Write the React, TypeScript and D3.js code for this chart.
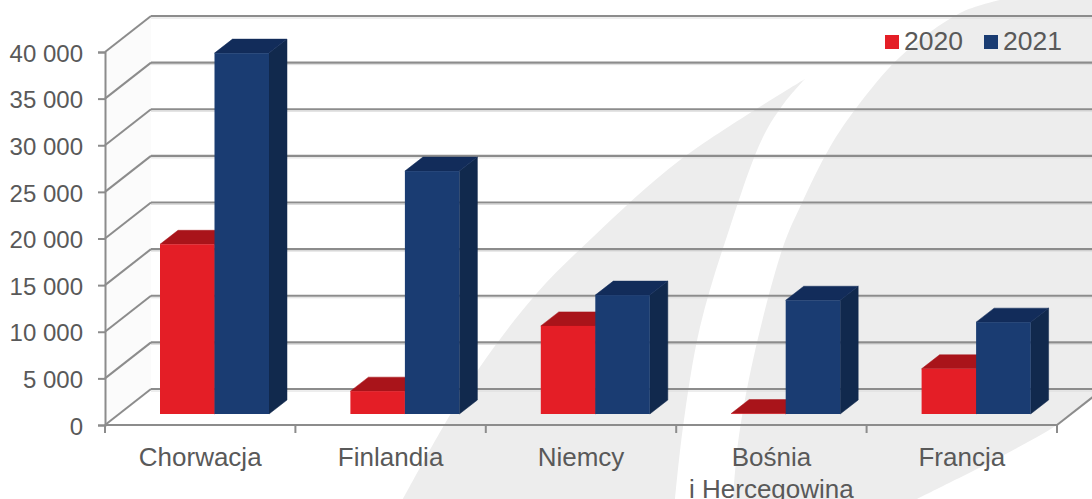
import * as d3 from "d3";
import { useEffect, useRef } from "react";

const categories = ["Chorwacja", "Finlandia", "Niemcy", "Bośnia|i Hercegowina", "Francja"];
const seriesNames = ["2020", "2021"];
const values2020 = [18200, 2450, 9450, 50, 4850];
const values2021 = [38700, 26050, 12750, 12200, 9850];
const yTicks = [0, 5000, 10000, 15000, 20000, 25000, 30000, 35000, 40000];

// background swooshes
const bladeLeftEdge: [number, number][] = [[805, 79], [680, 160], [593, 237], [537, 293], [480, 367], [443, 427], [403, 499]];
const bladeRightEdge: [number, number][] = [[675, 499], [683, 427], [700, 327], [730, 227], [763, 137], [785, 102], [805, 79]];
const sailLeftEdge: [number, number][] = [[1000, 0], [960, 13], [900, 57], [857, 107], [830, 147], [800, 207], [783, 247], [753, 360], [738, 443], [733, 499]];
const sailBottomEdge: [number, number][] = [[917, 499], [1000, 457], [1057, 425], [1092, 398]];

const width = 1092;
const height = 499;
const depthX = 46;
const depthY = 36;
const barDepthX = 18;
const barDepthY = 14;
const floorGap = 11;

const colors = {
    red: "#e41e26",
    redTop: "#a9141a",
    blue: "#1a3c72",
    blueTop: "#122c5a",
    blueSide: "#11294d",
    grid: "#8c8c8c",
    text: "#595959",
    swoosh: "#ededed",
    wall: "#fbfbfb",
};

const seriesColors = [
    { front: colors.red, top: colors.redTop, side: colors.redTop },
    { front: colors.blue, top: colors.blueTop, side: colors.blueSide },
];

export default function App() {
    const svgRef = useRef<SVGSVGElement>(null);

    useEffect(() => {
        if (svgRef.current) {
            drawChart();
        }
    }, [svgRef]);

    const drawChart = () => {
        const svg = d3.select(svgRef.current);
        svg.selectAll("*").remove();

        const scaleX = d3.scaleBand().domain(categories).range([105, 1057]);
        const scaleInner = d3.scaleBand().domain(seriesNames).range([0, 109]);
        const scaleY = d3.scaleLinear().domain([0, 40000]).range([425, 52]);

        drawBackground(svg);
        drawGrid(svg, scaleX, scaleY);
        drawAxis(svg, scaleX, scaleY);
        drawBars(svg, scaleX, scaleInner, scaleY);
        drawLegend(svg);
    };

    const drawBackground = (svg: any) => {
        const curve = d3.line().curve(d3.curveCatmullRom.alpha(0.5));
        svg.append("path")
            .attr("d", curve(bladeLeftEdge) + "L" + curve(bladeRightEdge)!.slice(1) + "Z")
            .attr("fill", colors.swoosh);
        svg.append("path")
            .attr("d", curve(sailLeftEdge) + "L" + curve(sailBottomEdge)!.slice(1) + "L1092,0Z")
            .attr("fill", colors.swoosh);
    };

    const drawGrid = (svg: any, scaleX: any, scaleY: any) => {
        const [x0, x1] = scaleX.range();
        const base = scaleY(0);
        const top = scaleY(40000);

        // left wall
        svg.append("path")
            .attr("d", d3.line()([
                [x0, top],
                [x0 + depthX, top - depthY],
                [x0 + depthX, base - depthY],
                [x0, base],
            ]) + "Z")
            .attr("fill", colors.wall);

        const grid = svg.append("g");
        yTicks.forEach((tick) => {
            const y = scaleY(tick);
            // faint shadow under the back line
            grid.append("line")
                .attr("x1", x0 + depthX)
                .attr("x2", width)
                .attr("y1", y - depthY + 2)
                .attr("y2", y - depthY + 2)
                .attr("stroke", "#dcdcdc")
                .attr("stroke-width", 1);
            grid.append("line")
                .attr("x1", x0 + depthX)
                .attr("x2", width)
                .attr("y1", y - depthY)
                .attr("y2", y - depthY)
                .attr("stroke", colors.grid)
                .attr("stroke-width", 2.2);
            grid.append("line")
                .attr("x1", x0)
                .attr("x2", x0 + depthX)
                .attr("y1", y)
                .attr("y2", y - depthY)
                .attr("stroke", colors.grid)
                .attr("stroke-width", 2);
        });

        // right edge of the floor
        grid.append("line")
            .attr("x1", x1)
            .attr("x2", x1 + depthX)
            .attr("y1", base)
            .attr("y2", base - depthY)
            .attr("stroke", colors.grid)
            .attr("stroke-width", 2);
    };

    const drawAxis = (svg: any, scaleX: any, scaleY: any) => {
        const font = "'Liberation Sans', Arial, sans-serif";
        const [x0, x1] = scaleX.range();

        // y axis
        const axisY = svg.append("g")
            .attr("transform", "translate(" + x0 + ",0)")
            .call(
                d3.axisLeft(scaleY)
                    .tickValues(yTicks)
                    .tickSize(7)
                    .tickPadding(15)
                    .tickFormat((d: any) => d3.format(",")(d).replace(",", " "))
            );
        axisY.selectAll("path").attr("stroke", colors.grid).attr("stroke-width", 2);
        axisY.selectAll("line").attr("stroke", colors.grid).attr("stroke-width", 2);
        axisY.selectAll("text")
            .attr("fill", colors.text)
            .attr("font-family", font)
            .attr("font-size", 24)
            .attr("dy", "0.38em");

        // x axis: the ticks sit on the band edges
        const base = scaleY(0);
        const edges = categories.map((c) => scaleX(c)).concat([x1]);
        svg.append("line")
            .attr("x1", x0)
            .attr("x2", x1)
            .attr("y1", base)
            .attr("y2", base)
            .attr("stroke", colors.grid)
            .attr("stroke-width", 2);
        svg.append("g")
            .selectAll("line")
            .data(edges)
            .join("line")
            .attr("x1", (d: number) => d)
            .attr("x2", (d: number) => d)
            .attr("y1", base)
            .attr("y2", base + 8)
            .attr("stroke", colors.grid)
            .attr("stroke-width", 2);

        categories.forEach((category) => {
            const cx = scaleX(category) + scaleX.bandwidth() / 2;
            category.split("|").forEach((part, i) => {
                svg.append("text")
                    .attr("x", cx)
                    .attr("y", 466 + i * 32)
                    .attr("text-anchor", "middle")
                    .attr("fill", colors.text)
                    .attr("font-family", font)
                    .attr("font-size", 26)
                    .text(part);
            });
        });
    };

    const drawBars = (svg: any, scaleX: any, scaleInner: any, scaleY: any) => {
        const barWidth = scaleInner.bandwidth();
        const floor = scaleY(0) - floorGap;

        categories.forEach((category, c) => {
            const groupX = scaleX(category) + 55;
            [values2020, values2021].forEach((values, s) => {
                const x = groupX + scaleInner(seriesNames[s]);
                const y = scaleY(values[c]) - floorGap;
                const color = seriesColors[s];

                // right side
                svg.append("path")
                    .attr("d", d3.line()([
                        [x + barWidth, y],
                        [x + barWidth + barDepthX, y - barDepthY],
                        [x + barWidth + barDepthX, floor - barDepthY],
                        [x + barWidth, floor],
                    ]) + "Z")
                    .attr("fill", color.side)
                    .attr("stroke", color.side)
                    .attr("stroke-width", 0.5);
                // top
                svg.append("path")
                    .attr("d", d3.line()([
                        [x, y],
                        [x + barDepthX, y - barDepthY],
                        [x + barWidth + barDepthX, y - barDepthY],
                        [x + barWidth, y],
                    ]) + "Z")
                    .attr("fill", color.top)
                    .attr("stroke", color.top)
                    .attr("stroke-width", 0.5);
                // front
                svg.append("rect")
                    .attr("x", x)
                    .attr("y", y)
                    .attr("width", barWidth)
                    .attr("height", Math.max(floor - y, 0))
                    .attr("fill", color.front);
            });
        });
    };

    const drawLegend = (svg: any) => {
        const positions = [885, 984];
        seriesNames.forEach((name, i) => {
            svg.append("rect")
                .attr("x", positions[i])
                .attr("y", 35)
                .attr("width", 14)
                .attr("height", 14)
                .attr("fill", seriesColors[i].front);
            svg.append("text")
                .attr("x", positions[i] + 19)
                .attr("y", 50)
                .attr("fill", colors.text)
                .attr("font-family", "'Liberation Sans', Arial, sans-serif")
                .attr("font-size", 26.5)
                .text(name);
        });
    };

    return (
        <svg
            ref={svgRef}
            width={width}
            height={height}
            style={{ position: "absolute", top: 0, left: 0, background: "#fff" }}
        />
    );
}
